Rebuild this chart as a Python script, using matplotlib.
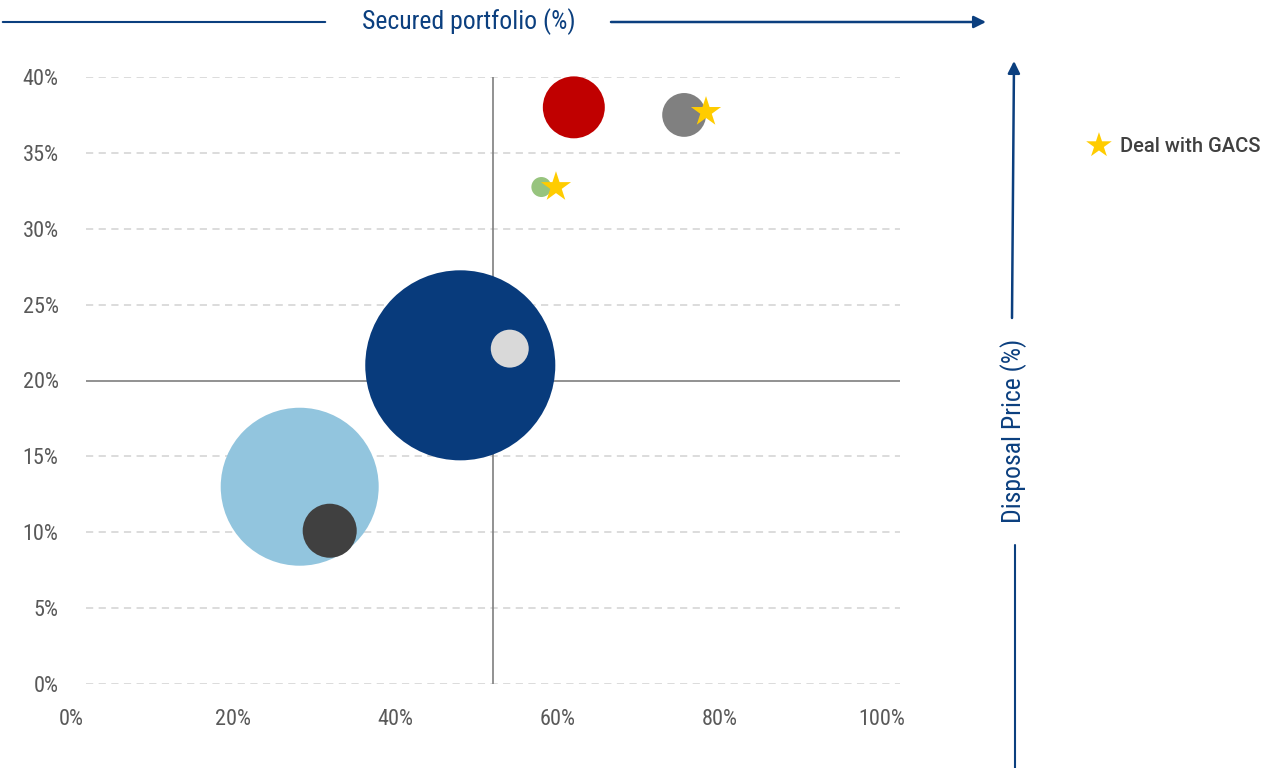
import matplotlib
matplotlib.use("Agg")
import matplotlib.pyplot as plt
from matplotlib import font_manager as fm

# ---- data ----
names = ["Light blue", "Dark grey", "Dark blue", "Light grey", "Red", "Grey", "Green"]
secured = [28.2, 31.9, 48.0, 54.1, 62.0, 75.6, 58.0]       # x, %
price = [13.0, 10.1, 21.0, 22.1, 38.0, 37.5, 32.75]         # y, %
volume = [62.4, 7.3, 90.3, 3.6, 9.6, 4.8, 1.0]              # bubble size
colors = ["#92C5DE", "#404040", "#083B7C", "#D9D9D9", "#C00000", "#808080", "#97C47E"]
gacs_x = [78.3, 59.8]
gacs_y = [37.7, 32.75]
xticks = [0, 20, 40, 60, 80, 100]
yticks = [0, 5, 10, 15, 20, 25, 30, 35, 40]
x_mid, y_mid = 52.0, 20.0

avail = {f.name for f in fm.fontManager.ttflist}
cond = None
for cand in ["Roboto Condensed", "Liberation Sans Narrow", "Open Sans Condensed"]:
    if cand in avail:
        cond = cand
        break
if cond is None:
    cond = "DejaVu Sans"
    cstretch = "condensed"
else:
    cstretch = "normal"

NAVY = "#0B3F7F"
fig = plt.figure(figsize=(12.75, 7.68), dpi=100)
W, H = 1275, 768
x0, x1 = 71, 900
ax = fig.add_axes([x0 / W, 1 - 684 / H, (x1 - x0) / W, (684 - 77) / H])
xmax = (x1 - x0) / 8.11
xgrid0 = (86 - x0) / 8.11
ax.set_xlim(0, xmax)
ax.set_ylim(0, 40)
for s in ax.spines.values():
    s.set_visible(False)
ax.set_xticks(xticks)
ax.set_xticklabels([f"{t}%" for t in xticks])
ax.set_yticks(yticks)
ax.set_yticklabels([f"{t}%" for t in yticks])
ax.tick_params(length=0, labelsize=16, labelcolor="#595959")
ax.tick_params(axis="x", pad=18)
ax.tick_params(axis="y", pad=9)
for lab in ax.get_xticklabels() + ax.get_yticklabels():
    lab.set_family(cond)
    lab.set_stretch(cstretch)

for yv in yticks:
    if yv == y_mid:
        continue
    ax.hlines(yv, xgrid0, xmax, colors="#D9D9D9", linestyles=(0, (4, 3)), lw=1.3, zorder=0)
ax.hlines(y_mid, xgrid0, xmax, colors="#7F7F7F", lw=1.2, zorder=1)
ax.vlines(x_mid, 0, 40, colors="#7F7F7F", lw=1.2, zorder=1)

k = 2.0736 * 100  # size scale -> points^2
for xi, yi, v, c in zip(secured, price, volume, colors):
    ax.scatter([xi], [yi], s=v * k, color=c, edgecolors="none", zorder=3, clip_on=False)
ax.scatter(gacs_x, gacs_y, marker="*", s=520, color="#FFCC00", edgecolors="none", zorder=4, clip_on=False)

# top axis title with arrow
fig.text(469 / W, 1 - 22 / H, "Secured portfolio (%)", ha="center", va="center",
         color=NAVY, fontsize=18.5, family=cond, stretch=cstretch)
ax.annotate("", xy=(0, 1 - 22 / H), xytext=(328 / W, 1 - 22 / H), xycoords="figure fraction",
            arrowprops=dict(arrowstyle="-", color=NAVY, lw=1.5))
ax.annotate("", xy=(986 / W, 1 - 22 / H), xytext=(611 / W, 1 - 22 / H), xycoords="figure fraction",
            arrowprops=dict(arrowstyle="-|>", color=NAVY, lw=1.8, mutation_scale=18, shrinkA=0, shrinkB=0))

# right axis title with arrow
fig.text(1014 / W, 1 - 431 / H, "Disposal Price (%)", ha="center", va="center", rotation=90,
         color=NAVY, fontsize=18.5, family=cond, stretch=cstretch)
ax.annotate("", xy=(1014 / W, 1 - 61 / H), xytext=(1012 / W, 1 - 318 / H), xycoords="figure fraction",
            arrowprops=dict(arrowstyle="-|>", color=NAVY, lw=1.8, mutation_scale=18, shrinkA=0, shrinkB=0))
ax.annotate("", xy=(1015 / W, 1 - 545 / H), xytext=(1015 / W, 0), xycoords="figure fraction",
            arrowprops=dict(arrowstyle="-", color=NAVY, lw=1.5, shrinkA=0, shrinkB=0))

# legend
fig.text(1099 / W, 1 - 147 / H, "\u2605", ha="center", va="center", color="#FFCC00", fontsize=24,
         family="DejaVu Sans")
fig.text(1120 / W, 1 - 147 / H, "Deal with GACS", ha="left", va="center", color="#404040",
         fontsize=14.5, family="Roboto", weight="medium")

fig.savefig("out.png", dpi=100)
